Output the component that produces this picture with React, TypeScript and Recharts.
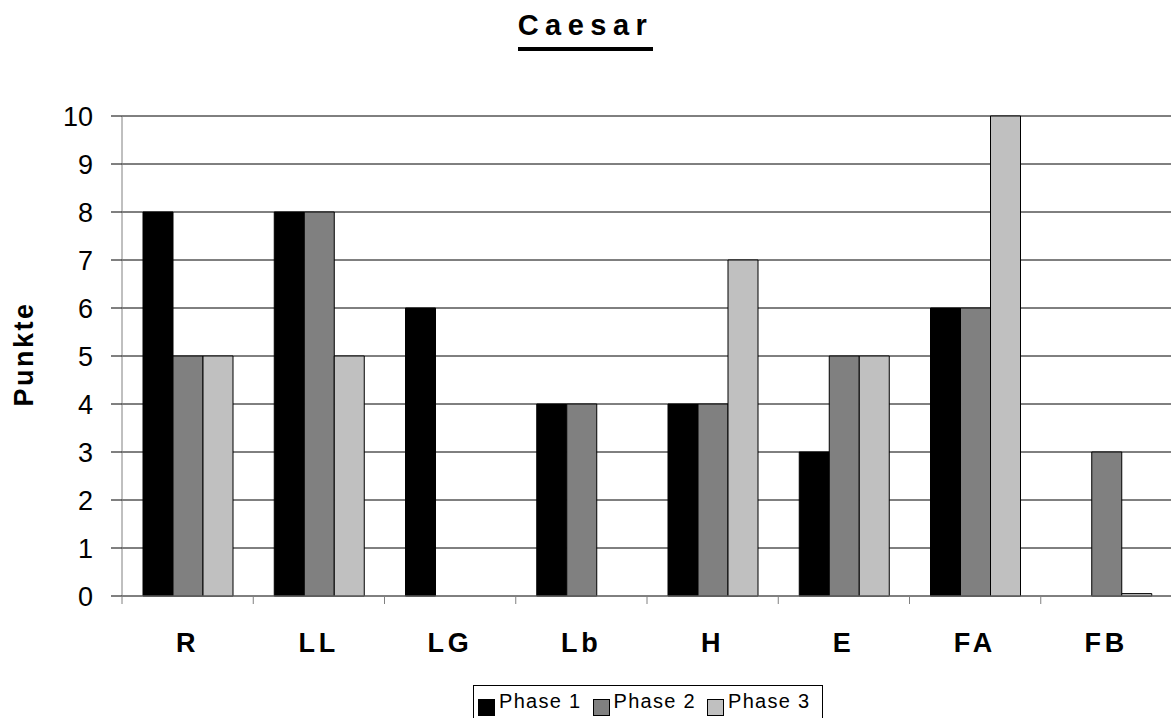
import { BarChart, Bar, XAxis, YAxis, CartesianGrid } from 'recharts';

const categories = ['R', 'LL', 'LG', 'Lb', 'H', 'E', 'FA', 'FB'];
const phase1 = [8, 8, 6, 4, 4, 3, 6, 0];
const phase2 = [5, 8, 0, 4, 4, 5, 6, 3];
const phase3 = [5, 5, 0, 0, 7, 5, 10, 0.05];
const yTicks = [0, 1, 2, 3, 4, 5, 6, 7, 8, 9, 10];

const seriesNames = ['Phase 1', 'Phase 2', 'Phase 3'];
const seriesColors = ['#000000', '#808080', '#c0c0c0'];

const FONT = '"Liberation Sans", Arial, sans-serif';

const data = categories.map((name, i) => ({
  name,
  p1: phase1[i],
  p2: phase2[i],
  p3: phase3[i],
}));

// ticks sit on the category boundaries, labels in the middle
function CategoryTick(props: any) {
  const { x, y, payload, index } = props;
  const half = payload && payload.offset ? payload.offset : 65.6;
  return (
    <g>
      <line x1={x - half} x2={x - half} y1={y} y2={y + 8} stroke="#808080" />
      {index === categories.length - 1 && (
        <line x1={x + half} x2={x + half} y1={y} y2={y + 8} stroke="#808080" />
      )}
      <text
        x={x}
        y={y + 56}
        textAnchor="middle"
        fontFamily={FONT}
        fontWeight="bold"
        fontSize={27}
        letterSpacing={4}
        fill="#000"
      >
        {payload.value}
      </text>
    </g>
  );
}

function YLabel() {
  return (
    <text
      x={33}
      y={354}
      transform="rotate(-90 33 354)"
      textAnchor="middle"
      fontFamily={FONT}
      fontWeight="bold"
      fontSize={27}
      letterSpacing={2.5}
      fill="#000"
    >
      Punkte
    </text>
  );
}

export default function App() {
  return (
    <div
      style={{
        position: 'absolute',
        left: 0,
        top: 0,
        width: 1171,
        height: 718,
        overflow: 'hidden',
        background: '#fff',
        fontFamily: FONT,
      }}
    >
      <div
        style={{
          position: 'absolute',
          top: 11,
          left: 0,
          width: 1171,
          textAlign: 'center',
        }}
      >
        <span
          style={{
            display: 'inline-block',
            fontSize: 29,
            fontWeight: 'bold',
            letterSpacing: 6.5,
            lineHeight: '29px',
            paddingBottom: 7,
            borderBottom: '4px solid #000',
          }}
        >
          Caesar
        </span>
      </div>

      <BarChart
        width={1172}
        height={718}
        data={data}
        margin={{ top: 116, right: 0, left: 0, bottom: 0 }}
        barCategoryGap="16%"
        barGap={0}
      >
        <CartesianGrid vertical={false} stroke="#000" strokeOpacity={1} />
        <XAxis
          dataKey="name"
          height={122}
          tickSize={0}
          tickMargin={0}
          tickLine={false}
          axisLine={{ stroke: '#808080' }}
          tick={<CategoryTick />}
          interval={0}
        />
        <YAxis
          width={122}
          domain={[0, 10]}
          ticks={yTicks}
          interval={0}
          tickSize={11}
          tickMargin={18}
          tickLine={{ stroke: '#000' }}
          axisLine={{ stroke: '#808080' }}
          tick={{ fill: '#000', fontSize: 27, fontFamily: FONT }}
          label={<YLabel />}
        />
        <Bar dataKey="p1" name={seriesNames[0]} fill={seriesColors[0]} stroke="#000" isAnimationActive={false} />
        <Bar dataKey="p2" name={seriesNames[1]} fill={seriesColors[1]} stroke="#000" isAnimationActive={false} />
        <Bar dataKey="p3" name={seriesNames[2]} fill={seriesColors[2]} stroke="#000" isAnimationActive={false} />
      </BarChart>

      <div
        style={{
          position: 'absolute',
          left: 473,
          top: 685,
          width: 350,
          height: 60,
          border: '1px solid #000',
          display: 'flex',
          alignItems: 'flex-start',
          paddingTop: 5,
          paddingLeft: 4,
          boxSizing: 'border-box',
          whiteSpace: 'nowrap',
        }}
      >
        {seriesNames.map((n, i) => (
          <div key={n} style={{ display: 'flex', alignItems: 'flex-start', marginRight: 11, flexShrink: 0 }}>
            <div
              style={{
                width: 15,
                height: 15,
                marginTop: 8,
                marginRight: 4,
                flexShrink: 0,
                background: seriesColors[i],
                border: '1px solid #000',
              }}
            />
            <span style={{ fontSize: 20, lineHeight: '20px', letterSpacing: 1.3, color: '#000', whiteSpace: 'nowrap' }}>
              {n}
            </span>
          </div>
        ))}
      </div>
    </div>
  );
}
